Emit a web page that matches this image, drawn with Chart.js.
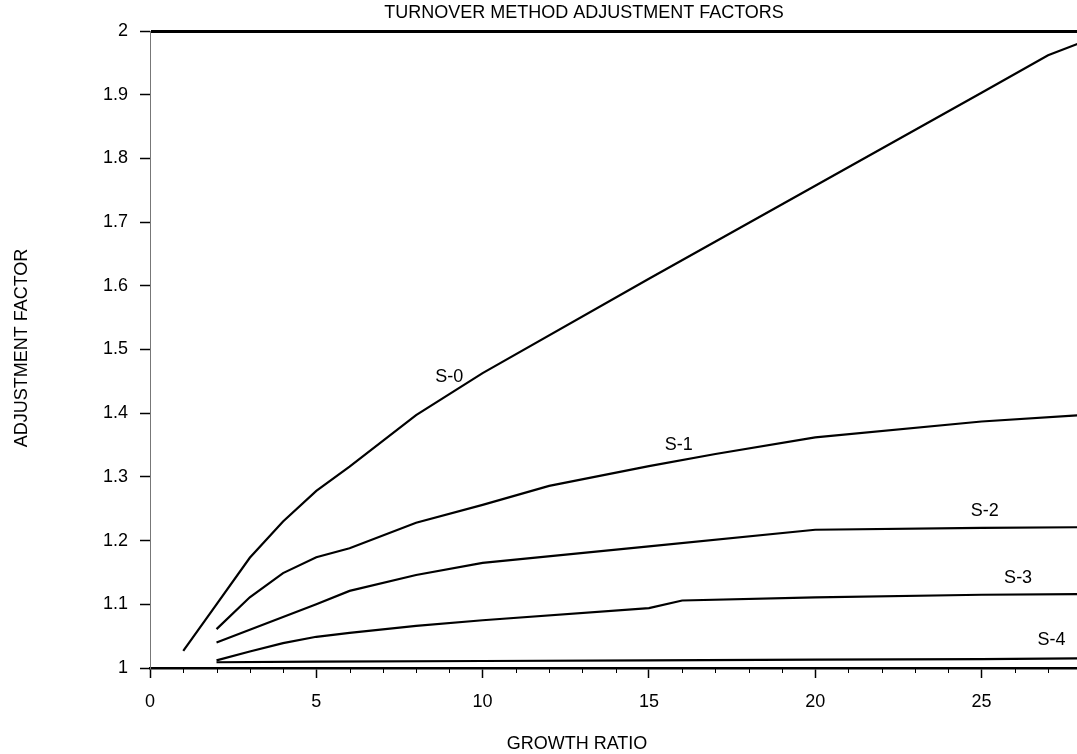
<!DOCTYPE html>
<html>
<head>
<meta charset="utf-8">
<script src="https://cdn.jsdelivr.net/npm/chart.js@4"></script>
<style>html,body{margin:0;background:#fff}</style>
</head>
<body>
<canvas id="chart" width="1077" height="754"></canvas>
<script>
Chart.defaults.color = '#000';
Chart.defaults.font.family = "'Liberation Sans', Arial, sans-serif";
Chart.defaults.font.size = 18;

const S0_X = [1, 2, 3, 4, 5, 6, 8, 10, 15, 20, 25, 27, 28];
const S0_Y = [1.027, 1.100, 1.173, 1.230, 1.278, 1.316, 1.397, 1.463, 1.611, 1.757, 1.903, 1.962, 1.982];
const S1_X = [2, 3, 4, 5, 6, 8, 10, 12, 15, 17, 20, 25, 28];
const S1_Y = [1.061, 1.111, 1.149, 1.174, 1.188, 1.228, 1.256, 1.286, 1.317, 1.336, 1.362, 1.387, 1.397];
const S2_X = [2, 3, 4, 5, 6, 8, 10, 15, 20, 25, 28];
const S2_Y = [1.040, 1.060, 1.080, 1.100, 1.121, 1.146, 1.165, 1.191, 1.217, 1.220, 1.221];
const S3_X = [2, 3, 4, 5, 6, 8, 10, 15, 16, 20, 25, 28];
const S3_Y = [1.012, 1.026, 1.039, 1.049, 1.055, 1.066, 1.075, 1.094, 1.106, 1.111, 1.115, 1.116];
const S4_X = [2, 5, 10, 15, 20, 25, 28];
const S4_Y = [1.009, 1.010, 1.011, 1.012, 1.013, 1.014, 1.015];

const SERIES  = ['S-0', 'S-1', 'S-2', 'S-3', 'S-4'];
const LABEL_X = [9.0, 15.9, 25.1, 26.1, 27.1];
const LABEL_Y = [1.457, 1.350, 1.246, 1.141, 1.044];

const X_TICKS = [0, 5, 10, 15, 20, 25];
const Y_TICKS = [1, 1.1, 1.2, 1.3, 1.4, 1.5, 1.6, 1.7, 1.8, 1.9, 2];

const FONT = "18px 'Liberation Sans', Arial, sans-serif";

const pts = (xs, ys) => xs.map((x, i) => ({ x, y: ys[i] }));
const curve = (label, xs, ys) => ({
    label, data: pts(xs, ys),
    borderColor: '#000', borderWidth: 2.2, pointRadius: 0, fill: false, tension: 0
});

// curve names, minor x ticks and the captions
const extras = {
    id: 'extras',
    afterDraw(chart) {
        const { ctx, scales: { x, y } } = chart;
        ctx.save();
        ctx.fillStyle = '#000';
        ctx.strokeStyle = '#000';
        ctx.font = FONT;
        ctx.textAlign = 'center';
        ctx.textBaseline = 'middle';
        SERIES.forEach((s, i) => ctx.fillText(s, x.getPixelForValue(LABEL_X[i]), y.getPixelForValue(LABEL_Y[i])));

        ctx.lineWidth = 1;
        for (let v = 1; v < x.max; v++) {
            if (v % 5 === 0) continue;
            const px = Math.round(x.getPixelForValue(v)) + 0.5;
            ctx.beginPath();
            ctx.moveTo(px, y.bottom - 1);
            ctx.lineTo(px, y.bottom + 5);
            ctx.stroke();
        }

        ctx.fillText('TURNOVER METHOD ADJUSTMENT FACTORS', 584, 13);
        ctx.fillText('GROWTH RATIO', 577, 744);
        ctx.translate(22, 348);
        ctx.rotate(-Math.PI / 2);
        ctx.fillText('ADJUSTMENT FACTOR', 0, 0);
        ctx.restore();
    }
};

new Chart(document.getElementById('chart'), {
    type: 'line',
    data: {
        datasets: [
            curve('S-0', S0_X, S0_Y),
            curve('S-1', S1_X, S1_Y),
            curve('S-2', S2_X, S2_Y),
            curve('S-3', S3_X, S3_Y),
            curve('S-4', S4_X, S4_Y)
        ]
    },
    options: {
        responsive: false,
        animation: false,
        layout: { padding: { top: 31, left: 0, right: 0, bottom: 0 } },
        plugins: { legend: { display: false }, tooltip: { enabled: false } },
        scales: {
            x: {
                type: 'linear',
                min: 0,
                max: 27.87,
                afterBuildTicks: s => { s.ticks = X_TICKS.map(v => ({ value: v })); },
                afterFit: s => { s.height = 86; },
                ticks: { autoSkip: false, maxRotation: 0, padding: 13, callback: v => String(v) },
                grid: { drawOnChartArea: false, tickLength: 10, tickColor: '#000', tickWidth: 1.5 },
                border: { color: '#000', width: 2.5 }
            },
            y: {
                type: 'linear',
                min: 1,
                max: 2,
                afterBuildTicks: s => { s.ticks = Y_TICKS.map(v => ({ value: v })); },
                afterFit: s => { s.width = 150; },
                ticks: { padding: 12, callback: v => String(Math.round(v * 10) / 10) },
                grid: {
                    drawOnChartArea: true,
                    color: c => (c.tick && c.tick.value === 2 ? '#000' : 'rgba(0,0,0,0)'),
                    lineWidth: c => (c.tick && c.tick.value === 2 ? 3 : 1),
                    tickLength: 10,
                    tickColor: '#000',
                    tickWidth: 1.5
                },
                border: { color: '#777', width: 1 }
            }
        }
    },
    plugins: [extras]
});
</script>
</body>
</html>
